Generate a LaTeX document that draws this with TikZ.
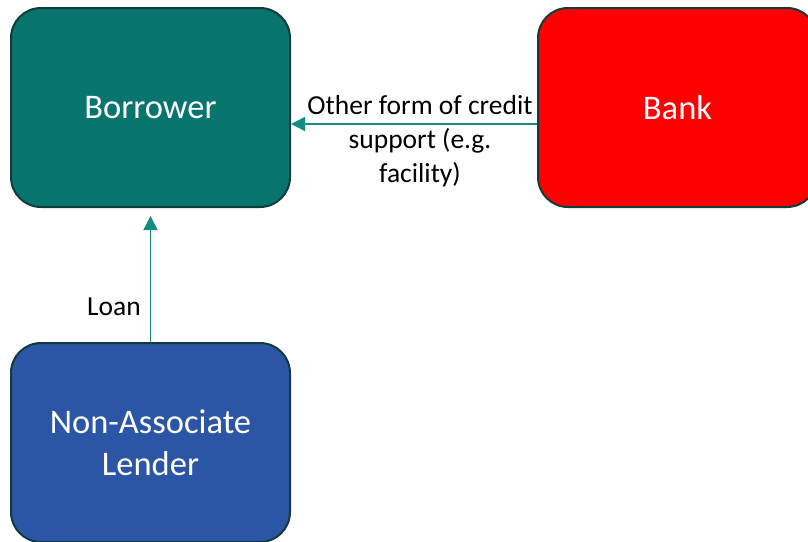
\documentclass[tikz,border=0pt]{standalone}
\usepackage{fontspec}
\setmainfont{Carlito}
\usepackage{xcolor}
\usepackage{tikz}
\usetikzlibrary{positioning}
\usetikzlibrary{arrows.meta}
\definecolor{borrowerteal}{RGB}{7,117,110}
\definecolor{bankred}{RGB}{255,0,0}
\definecolor{lenderblue}{RGB}{43,86,166}
\definecolor{edgedark}{RGB}{16,60,60}
\definecolor{flowteal}{RGB}{19,140,134}

\begin{document}
\begin{tikzpicture}[x=1pt,y=-1pt]
        \tikzstyle{party}=[draw=edgedark,line width=2pt,rounded corners=30pt,
            minimum width=279pt,minimum height=199pt,text=white,align=center,
            font=\fontsize{34.5}{41.5}\selectfont]
        \tikzstyle{flow}=[-{Triangle[length=14pt,width=14pt]},draw=flowteal,
            line width=1.5pt]
        \tikzstyle{lbl}=[inner sep=2pt,align=center,
            font=\fontsize{27.5}{34}\selectfont]
            \path[use as bounding box, clip] (0,0) rectangle (808,541);

            \node[party, fill=borrowerteal] (borrower) at (150.5,107.5) {Borrower};
            \node[party, fill=bankred] (bank) at (677.5,107.5) {Bank};
            \node[party, fill=lenderblue] (lender) at (150.5,442.5)
                {Non-Associate\\Lender};

            \draw[flow, shorten >=8pt] (lender) -- (borrower)
            node[lbl, pos=0.26, left=7pt] {Loan};

            \draw[flow] ([yshift=-16.5pt]bank.west) -- ([yshift=-16.5pt]borrower.east)
            node[lbl, midway, xshift=6pt, yshift=-17pt]
                {Other form of credit\\support (e.g.\\facility)};
        \end{tikzpicture}
\end{document}
